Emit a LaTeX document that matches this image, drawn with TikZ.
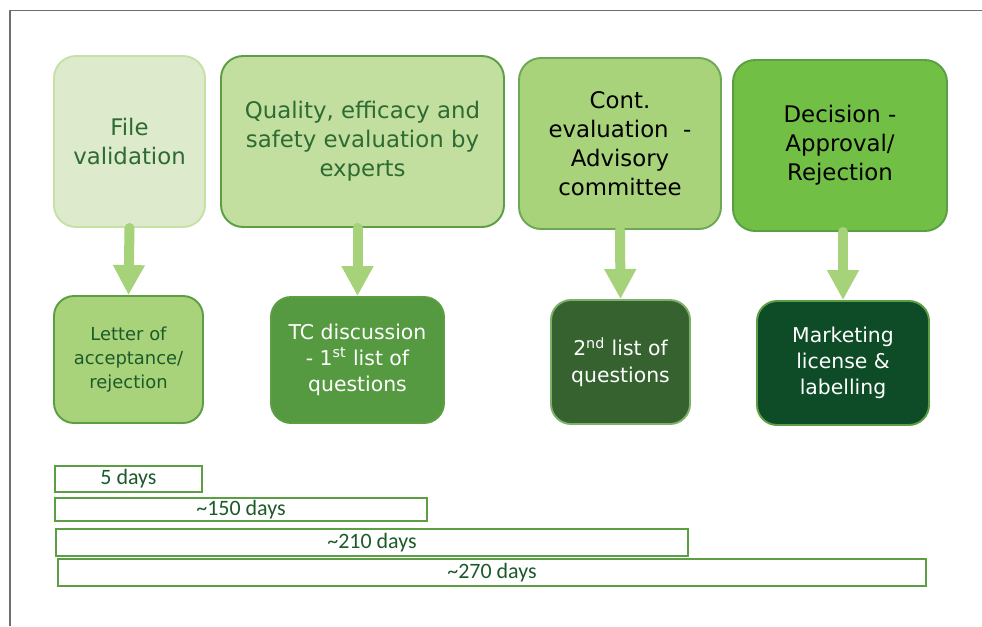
\documentclass[tikz,border=0pt]{standalone}
\usepackage{fontspec}
\setmainfont{DejaVu Sans}
\newfontfamily\dayfont{Carlito}
\definecolor{framegray}{RGB}{110,110,110}
\definecolor{paleline}{RGB}{198,224,168}
\definecolor{palefill}{RGB}{221,235,204}
\definecolor{lightfill}{RGB}{195,223,160}
\definecolor{midfill}{RGB}{168,211,123}
\definecolor{brightfill}{RGB}{113,191,69}
\definecolor{boxline}{RGB}{92,158,67}
\definecolor{tcfill}{RGB}{85,154,65}
\definecolor{qfill}{RGB}{53,98,47}
\definecolor{mlfill}{RGB}{14,76,39}
\definecolor{arrowgreen}{RGB}{166,210,122}
\definecolor{darktext}{RGB}{46,107,51}
\definecolor{daytext}{RGB}{29,90,42}
\usetikzlibrary{arrows.meta}

\begin{document}
\begin{tikzpicture}[x=0.02cm,y=-0.02cm,
  stepbox/.style={draw=boxline,line width=1.1pt,rounded corners=0.44cm,
               minimum height=3.42cm,align=center,inner sep=2pt,
               font=\fontsize{13}{16.4}\selectfont},
  outbox/.style={draw=boxline,line width=1.1pt,rounded corners=0.4cm,
               align=center,inner sep=2pt,
               font=\fontsize{11.6}{15}\selectfont,text=white},
  daybar/.style={draw=boxline,line width=1.1pt,fill=white,inner sep=0pt,
               font=\dayfont\fontsize{12.5}{14}\selectfont,text=daytext},
  arr/.style={line width=0.2cm,line cap=round,arrowgreen,
               -{Triangle[width=0.6cm,length=0.6cm]}}]

  \useasboundingbox (0,0) rectangle (982,626);
  \draw[framegray,line width=0.6pt] (10,626) -- (10,10.5) -- (982,10.5);

  % top row
  \node[stepbox,draw=paleline,fill=palefill,text=darktext,minimum width=3.02cm]
    (FV) at (129.5,141.5) {File\\validation};
  \node[stepbox,fill=lightfill,text=darktext,minimum width=5.66cm]
    (QE) at (362.5,141.5) {Quality, efficacy and\\safety evaluation by\\experts};
  \node[stepbox,draw=boxline!90!white,fill=midfill,text=black,minimum width=4.04cm]
    (CE) at (620,143.5) {Cont.\\evaluation\ \ -\\Advisory\\committee};
  \node[stepbox,fill=brightfill,text=black,minimum width=4.28cm]
    (DA) at (840,145.5) {Decision -\\Approval/\\Rejection};

  % bottom row
  \node[outbox,fill=midfill,text=daytext,minimum width=2.98cm,minimum height=2.54cm,
        font=\fontsize{10.2}{13.6}\selectfont]
    (LA) at (128.5,359.5) {Letter of\\acceptance/\\rejection};
  \node[outbox,fill=tcfill,minimum width=3.46cm,minimum height=2.52cm]
    (TC) at (357.5,360) {TC discussion\\- 1\textsuperscript{st} list of\\questions};
  \node[outbox,draw=boxline!80!white,fill=qfill,minimum width=2.78cm,minimum height=2.48cm]
    (SQ) at (620.5,362) {2\textsuperscript{nd} list of\\questions};
  \node[outbox,fill=mlfill,minimum width=3.44cm,minimum height=2.48cm]
    (ML) at (843,363) {Marketing\\license \&\\labelling};

  \draw[arr] (FV.south) -- (LA.north);
  \draw[arr] (QE.south -| TC.north) -- (TC.north);
  \draw[arr] (CE.south) -- (SQ.north);
  \draw[arr] (DA.south -| ML.north) -- (ML.north);

  % durations
  \node[daybar,minimum width=2.94cm,minimum height=0.52cm] (D5)   at (128.5,479)   {5 days};
  \node[daybar,minimum width=7.44cm,minimum height=0.46cm] (D150) at (241,509.5)   {\textasciitilde150 days};
  \node[daybar,minimum width=12.64cm,minimum height=0.54cm] (D210) at (372,542.5) {\textasciitilde210 days};
  \node[daybar,minimum width=17.36cm,minimum height=0.54cm] (D270) at (492,572.5) {\textasciitilde270 days};
\end{tikzpicture}
\end{document}
